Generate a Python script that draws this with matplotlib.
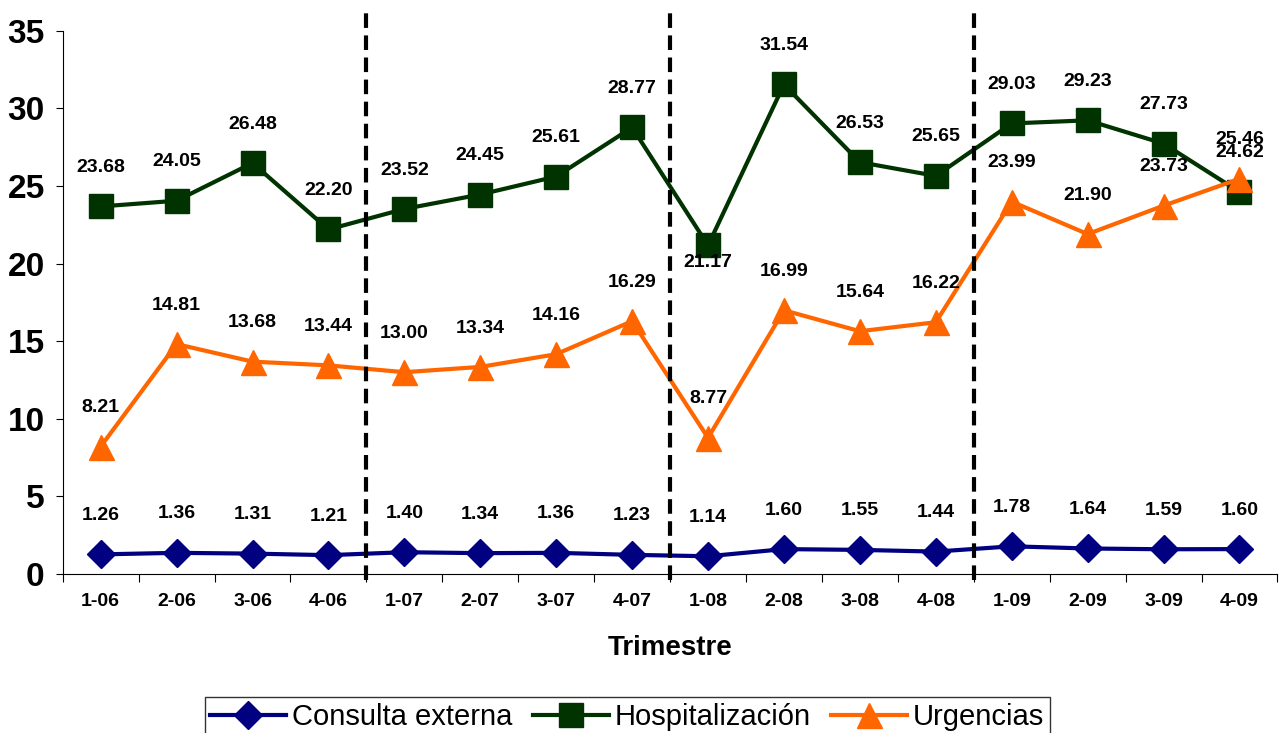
import matplotlib.pyplot as plt
import numpy as np

plt.rcParams['font.family'] = ['Liberation Sans', 'DejaVu Sans']

trimestres = ['1-06', '2-06', '3-06', '4-06', '1-07', '2-07', '3-07', '4-07',
              '1-08', '2-08', '3-08', '4-08', '1-09', '2-09', '3-09', '4-09']
consulta = [1.26, 1.36, 1.31, 1.21, 1.40, 1.34, 1.36, 1.23,
            1.14, 1.60, 1.55, 1.44, 1.78, 1.64, 1.59, 1.60]
hospital = [23.68, 24.05, 26.48, 22.20, 23.52, 24.45, 25.61, 28.77,
            21.17, 31.54, 26.53, 25.65, 29.03, 29.23, 27.73, 24.62]
urgencias = [8.21, 14.81, 13.68, 13.44, 13.00, 13.34, 14.16, 16.29,
             8.77, 16.99, 15.64, 16.22, 23.99, 21.90, 23.73, 25.46]
year_breaks = [3.5, 7.5, 11.5]

series = [
    ('Consulta externa', consulta, '#000080', 'D', 14),
    ('Hospitalización', hospital, '#003300', 's', 17),
    ('Urgencias', urgencias, '#FF6600', '^', 18),
]

fig = plt.figure(figsize=(12.8, 7.33), dpi=100)
ax = fig.add_axes([0.049, 0.217, 0.949, 0.741])

x = np.arange(len(trimestres))
for name, vals, color, marker, ms in series:
    ax.plot(x, vals, color=color, marker=marker, markersize=ms, linewidth=3,
            label=name, clip_on=False)
    for xi, v in zip(x, vals):
        dy = 28
        if name == 'Hospitalización' and v == 21.17:
            dy = -12
        ax.annotate(f'{v:.2f}', (xi, v), xytext=(0, dy), textcoords='offset points',
                    ha='center', va='center', fontsize=14, fontweight='bold')

for b in year_breaks:
    ax.axvline(b, ymin=-0.012, ymax=1.045, color='black', linewidth=3,
               dashes=(3.5, 1.8), clip_on=False)

ax.set_xlim(-0.5, len(trimestres) - 0.5)
ax.set_ylim(0, 35)
ax.set_yticks(range(0, 36, 5))
ax.tick_params(axis='y', labelsize=24, length=5, direction='out', pad=8)
for t in ax.get_yticklabels():
    t.set_fontweight('bold')

ax.set_xticks(np.arange(-0.5, len(trimestres)), labels=[])
ax.set_xticks(x, labels=trimestres, minor=True)
ax.tick_params(axis='x', which='major', length=6, direction='out')
ax.tick_params(axis='x', which='minor', length=0, labelsize=14, pad=14)
for t in ax.get_xticklabels(minor=True):
    t.set_fontweight('bold')

ax.set_xlabel('Trimestre', fontsize=20, fontweight='bold', labelpad=18)
ax.spines['top'].set_visible(False)
ax.spines['right'].set_visible(False)

leg = fig.legend(loc='center', bbox_to_anchor=(0.49, 0.022), ncol=3,
                 fontsize=21, frameon=True, fancybox=False, edgecolor='black',
                 handlelength=2.6, handletextpad=0.2, columnspacing=0.7,
                 borderpad=0.2)
leg.get_frame().set_linewidth(1)

fig.savefig('out.png', dpi=100)
